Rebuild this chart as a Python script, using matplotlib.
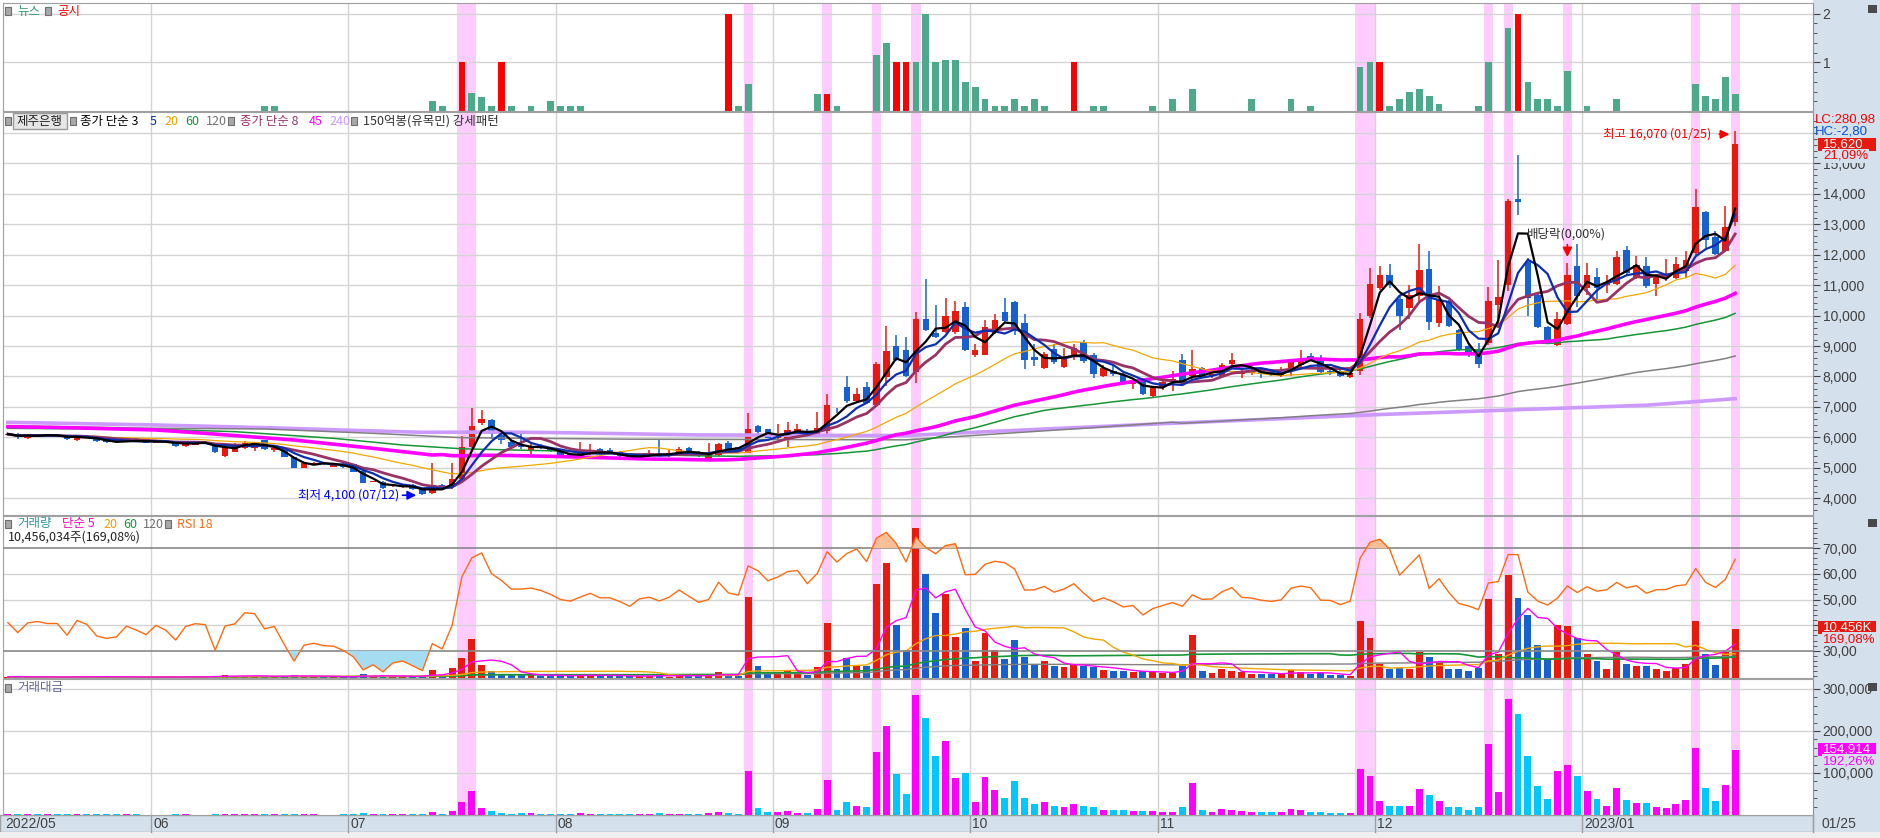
import matplotlib
matplotlib.use('Agg')
import matplotlib.pyplot as plt
from matplotlib.patches import Rectangle
from matplotlib import font_manager
import numpy as np
import pandas as pd

# ---------------- data ----------------
month_starts = [0, 15, 35, 56, 78, 98, 117, 139, 160]
month_labels = ['2022/05', '06', '07', '08', '09', '10', '11', '12', '2023/01']
last_date_label = '01/25'

ohlc = [
    (6080, 6130, 6050, 6110), (6120, 6160, 5960, 6000), (5980, 6120, 5960, 6070), (6100, 6110, 6060, 6080),
    (6030, 6100, 6020, 6060), (6080, 6110, 6040, 6060), (6020, 6040, 5920, 5940), (5900, 6050, 5890, 6040),
    (6010, 6050, 5980, 6000), (6020, 6040, 5860, 5870), (5930, 5950, 5820, 5840), (5930, 5940, 5830, 5850),
    (5890, 5940, 5870, 5920), (5970, 5990, 5860, 5880), (5920, 5930, 5820, 5830), (5830, 5900, 5820, 5890),
    (5910, 5920, 5830, 5840), (5860, 5870, 5700, 5730), (5730, 5840, 5680, 5820), (5750, 5860, 5740, 5840),
    (5780, 5850, 5770, 5830), (5800, 5820, 5490, 5510), (5400, 5720, 5350, 5700), (5530, 5800, 5520, 5720),
    (5640, 5880, 5620, 5820), (5640, 5830, 5550, 5810), (5910, 5930, 5600, 5620), (5580, 5680, 5520, 5640),
    (5620, 5640, 5340, 5360), (5350, 5360, 4980, 4990), (4990, 5160, 4980, 5150), (5140, 5200, 5130, 5170),
    (5130, 5160, 5090, 5120), (5040, 5130, 5030, 5110), (5140, 5160, 5010, 5020), (5110, 5130, 4860, 4880),
    (4900, 4910, 4500, 4510), (4540, 4580, 4520, 4560), (4550, 4560, 4310, 4330), (4400, 4440, 4380, 4420),
    (4370, 4460, 4350, 4440), (4440, 4460, 4280, 4300), (4330, 4350, 4100, 4140), (4160, 5150, 4150, 4440),
    (4440, 4460, 4280, 4300), (4380, 5170, 4300, 4620), (4650, 6050, 4600, 5680), (5690, 6960, 5650, 6370),
    (6480, 6890, 6400, 6590), (6560, 6600, 5950, 6100), (6090, 6210, 5780, 5920), (5840, 5900, 5650, 5680),
    (5740, 6100, 5620, 5680), (5590, 5830, 5450, 5710), (5700, 5780, 5620, 5650), (5660, 5700, 5530, 5550),
    (5590, 5620, 5380, 5420), (5450, 5480, 5340, 5380), (5330, 5860, 5300, 5480), (5450, 5780, 5420, 5570),
    (5610, 5640, 5450, 5470), (5590, 5640, 5450, 5470), (5520, 5560, 5370, 5390), (5420, 5440, 5260, 5290),
    (5320, 5460, 5300, 5440), (5400, 5600, 5350, 5470), (5450, 5960, 5380, 5400), (5400, 5600, 5370, 5470),
    (5420, 5700, 5400, 5610), (5660, 5700, 5480, 5500), (5520, 5560, 5350, 5390), (5300, 5830, 5280, 5440),
    (5420, 5800, 5400, 5780), (5810, 5870, 5570, 5590), (5680, 5700, 5530, 5550), (5500, 6790, 5480, 6270),
    (6370, 6400, 6100, 6180), (6260, 6280, 5970, 5990), (5990, 6430, 5960, 6090), (5940, 6510, 5670, 6240),
    (6140, 6430, 6100, 6270), (6180, 6290, 6000, 6030), (6090, 6820, 6060, 6300), (6210, 7420, 6100, 7060),
    (6870, 6980, 6800, 6850), (7670, 8020, 7140, 7200), (7200, 7610, 7140, 7410), (7670, 7810, 7100, 7140),
    (7070, 8490, 7000, 8400), (7970, 9660, 7690, 8830), (9000, 9350, 8500, 8550), (8870, 9290, 7980, 8020),
    (8140, 10110, 7790, 9900), (9900, 11210, 9490, 9520), (9430, 10360, 9250, 9290), (9450, 10580, 9430, 9990),
    (9470, 10470, 9400, 10160), (10290, 10450, 8850, 8860), (8720, 9050, 8640, 8880), (8720, 9840, 8700, 9630),
    (9430, 10060, 9400, 9870), (10110, 10580, 9780, 9810), (10460, 10490, 9370, 9540), (9760, 10060, 8230, 8530),
    (8630, 9050, 8330, 8550), (8270, 8790, 8250, 8750), (8910, 9050, 8420, 8470), (8300, 8940, 8280, 8640),
    (8700, 9070, 8550, 8940), (9130, 9210, 8450, 8500), (8720, 8770, 7950, 8090), (8010, 8360, 7980, 8270),
    (8190, 8390, 8030, 8080), (8060, 8120, 7790, 7820), (7760, 7950, 7590, 7880), (7900, 7950, 7390, 7410),
    (7350, 7700, 7330, 7680), (7660, 7870, 7550, 7810), (7820, 8190, 7510, 7930), (8550, 8740, 7730, 7770),
    (8030, 8880, 7810, 8250), (8280, 8300, 8030, 8060), (8010, 8170, 7950, 8080), (8030, 8440, 8000, 8370),
    (8420, 8770, 8390, 8550), (8080, 8280, 7950, 8190), (8110, 8280, 8040, 8160), (8230, 8280, 7950, 8080),
    (8150, 8230, 8000, 8040), (8030, 8310, 7990, 8090), (8170, 8530, 8030, 8500), (8390, 8880, 8310, 8580),
    (8680, 8770, 8500, 8530), (8550, 8720, 8120, 8150), (8160, 8280, 8060, 8140), (8190, 8220, 7990, 8010),
    (7990, 8140, 7950, 8110), (8190, 10080, 8050, 9900), (9970, 11560, 9920, 11050), (10900, 11640, 10850, 11320),
    (11320, 11700, 10900, 10990), (10550, 10630, 9510, 10000), (10250, 11010, 9900, 10690), (10650, 12360, 10470, 11510),
    (11540, 12110, 9510, 9790), (9750, 10960, 9640, 10550), (10490, 10520, 9630, 9670), (9530, 9560, 8850, 8880),
    (8990, 9030, 8640, 8690), (8900, 9100, 8270, 8420), (9100, 10930, 9040, 10490), (10360, 11810, 9700, 10600),
    (11010, 13810, 10790, 13750), (13840, 15270, 13290, 13740), (11750, 11890, 9970, 10580), (10690, 10720, 9580, 9610),
    (9610, 9650, 9090, 9150), (9040, 10100, 9000, 9900), (9730, 11730, 9700, 11340), (11620, 12350, 10270, 10650),
    (10900, 11730, 10690, 11340), (11260, 11560, 10520, 10900), (10990, 11340, 10740, 11060), (11040, 12110, 11000, 11910),
    (12140, 12270, 11340, 11400), (11230, 11950, 11200, 11650), (11620, 11910, 10900, 10960), (11040, 11340, 10630, 11320),
    (11230, 11840, 11120, 11340), (11230, 11920, 11200, 11700), (11470, 12110, 11230, 11810), (12060, 14140, 12000, 13560),
    (13390, 13430, 12200, 12470), (12570, 12770, 12000, 12020), (12110, 13610, 12080, 12900), (13080, 16070, 12930, 15620),
]
opens = [r[0] for r in ohlc]
highs = [r[1] for r in ohlc]
lows = [r[2] for r in ohlc]
closes = [r[3] for r in ohlc]

# volume in million shares
volume_m = [
    0.25, 0.3, 0.2, 0.2, 0.2, 0.2, 0.3, 0.3, 0.2, 0.3, 0.3, 0.2, 0.2, 0.2, 0.2, 0.2, 0.2, 0.3, 0.3, 0.2, 0.2,
    0.5, 0.6, 0.4, 0.4, 0.4, 0.4, 0.3, 0.4, 0.7, 0.4, 0.3, 0.2, 0.2, 0.3, 0.4, 0.8, 0.3, 0.5, 0.3, 0.3, 0.3, 0.5, 1.6, 0.6, 2.2,
    4.2, 8.3, 2.8, 1.5, 0.9, 0.6, 0.8, 0.7, 0.4, 0.4, 0.5, 0.4, 0.9, 0.6, 0.4, 0.4, 0.4, 0.4, 0.4, 0.4, 0.8, 0.3, 0.6, 0.4,
    0.4, 0.7, 1.2, 0.8, 0.5, 17.2, 2.5, 1.3, 1.1, 1.6, 0.9, 0.6, 2.4, 11.7, 1.8, 4.2, 2.8, 2.6, 19.8, 24.3, 11.2, 6.0,
    31.8, 22.0, 13.8, 17.7, 8.6, 10.5, 3.5, 9.5, 6.0, 4.0, 8.0, 4.5, 3.0, 3.5, 2.5, 2.3, 2.8, 2.6, 2.4, 1.6, 1.4, 1.5,
    1.2, 1.4, 1.3, 1.0, 1.0, 2.5, 9.2, 1.5, 1.0, 1.8, 1.5, 1.2, 0.9, 0.8, 0.8, 0.9, 1.6, 1.3, 0.8, 1.0, 0.6, 0.6, 0.5,
    12.0, 8.5, 3.0, 2.0, 2.2, 2.0, 5.5, 4.5, 3.3, 2.0, 2.0, 1.5, 2.2, 16.7, 5.0, 21.8, 17.0, 13.3, 7.0, 4.0, 11.3, 11.0,
    8.5, 5.0, 3.5, 2.0, 5.5, 3.0, 2.5, 2.5, 1.8, 1.5, 2.2, 3.0, 12.0, 5.0, 2.8, 5.6, 10.456,
]

# trading value in million KRW
value_m = [
    1500, 1800, 1200, 1200, 1200, 1200, 1800, 1800, 1200, 1800, 1750, 1200, 1200, 1200, 1150, 1150, 1150, 1700, 1700, 1150, 1150,
    2800, 3400, 2300, 2300, 2300, 2300, 1700, 2200, 3500, 2000, 1500, 1000, 1000, 1500, 2000, 3700, 1400, 2200, 1300, 1300, 1300,
    2100, 7500, 2600, 10500,
    30000, 58000, 16000, 9000, 5000, 3500, 4500, 4000, 2300, 2200, 2700, 2200, 5000, 3300, 2200, 2200, 2200, 2100, 2200, 2200,
    4400, 1600, 3400, 2200, 2200, 3800, 7000, 4500, 2800,
    105000, 15500, 7800, 6700, 10000, 5600, 3700, 15000, 83000, 12500, 30000, 20500, 18500, 151000, 211000, 97000, 50000,
    286000, 231000, 140000, 175000, 88000, 100000, 31000, 90000, 59000, 40000, 80000, 40000, 26000, 30000, 21500, 20000,
    25000, 22500, 20000, 13000, 11500, 11800, 9400, 10500, 10000, 7800, 8000, 20000, 76000, 12200, 8100, 15000, 12800,
    9800, 7300, 6500, 6500, 7300, 13500, 11200, 6900, 8300, 4900, 4800, 4000,
    110000, 93000, 34000, 22000, 22000, 21000, 63000, 48000, 34000, 20000, 18000, 13000, 19000, 170000, 55000, 275000,
    240000, 140000, 69000, 37000, 105000, 120000, 93000, 56000, 39000, 22000, 64000, 35000, 29000, 28000, 20000, 17000,
    26000, 35000, 160000, 64000, 34000, 71000, 154914,
]

news_counts = {26: 0.1, 27: 0.1, 43: 0.2, 44: 0.1, 47: 0.37, 48: 0.28, 49: 0.1, 51: 0.1, 53: 0.1, 55: 0.2, 56: 0.1,
               57: 0.1, 58: 0.1, 74: 0.1, 75: 0.55, 82: 0.35, 84: 0.1, 88: 1.15, 89: 1.4, 92: 1.0, 93: 2.0,
               94: 1.0, 95: 1.05, 96: 1.05, 97: 0.6, 98: 0.5, 99: 0.25, 100: 0.1, 101: 0.1, 102: 0.25, 103: 0.1,
               104: 0.25, 105: 0.1, 110: 0.1, 111: 0.1, 116: 0.1, 118: 0.25, 120: 0.45, 126: 0.25,
               130: 0.25, 132: 0.1, 137: 0.9, 138: 1.0, 140: 0.1, 141: 0.25, 142: 0.4, 143: 0.45, 144: 0.3,
               145: 0.15, 149: 0.1, 150: 1.0, 152: 1.7, 154: 0.6, 155: 0.25, 156: 0.25, 157: 0.1, 158: 0.83,
               160: 0.1, 163: 0.25, 171: 0.55, 172: 0.3, 173: 0.25, 174: 0.7, 175: 0.35}
disclosure_counts = {46: 1, 50: 1, 73: 2, 83: 0.35, 90: 1.0, 91: 1.0, 108: 1.0, 139: 1.0, 153: 2.0}

highlight_bars = [46, 47, 75, 83, 88, 92, 137, 138, 150, 152, 158, 171, 175]

ma45_early = {0: 6352, 6: 6319, 15: 6243, 20: 6133, 29: 5914, 37: 5641, 43: 5422}
ma60_early = {0: 6297, 15: 6265, 23: 6188, 33: 5969, 40: 5750, 46: 5625, 52: 5580, 58: 5540}
ma120_early = {0: 6380, 15: 6300, 26: 6276, 37: 6133, 46: 5990, 63: 5941, 91: 5919, 100: 6110, 110: 6320, 118: 6500}
ma240_read = {0: 6494, 6: 6460, 15: 6407, 26: 6320, 34: 6240, 42: 6166, 50: 6175, 57: 6150, 70: 6080, 91: 6060,
              100: 6200, 117: 6450, 139: 6750, 166: 7056, 175: 7270}
rsi_start = 41

# ---------------- helpers ----------------
W, H = 1881, 838
fig = plt.figure(figsize=(W / 100, H / 100), dpi=100)
fig.patch.set_facecolor('white')

names = {f.name for f in font_manager.fontManager.ttflist}
NUMF = 'Liberation Sans Narrow' if 'Liberation Sans Narrow' in names else 'Liberation Sans'
KR = ['Noto Sans CJK KR', 'DejaVu Sans']
plt.rcParams['font.family'] = KR

N = len(closes)
idx = np.arange(N)
PX0, PXS = 7.9, 9.87
XMIN, XMAX = (3 - PX0) / PXS, (1813 - PX0) / PXS

RED, BLUE = '#e8190e', '#1660d0'
GRID = '#d4d4d4'
TXT = '#404040'
STRIP = '#d5e0ed'
PINK = '#ffccff'
TICKSIZE = 10


def add_ax(y0, y1):
    ax = fig.add_axes([3 / W, 1 - y1 / H, (1813 - 3) / W, (y1 - y0) / H])
    ax.set_xlim(XMIN, XMAX)
    ax.set_facecolor('white')
    for s in ['top', 'left', 'bottom']:
        ax.spines[s].set_color('#a0a0a0')
    ax.spines['right'].set_color('#909090')
    ax.tick_params(axis='x', which='both', bottom=False, labelbottom=False)
    ax.yaxis.tick_right()
    ax.tick_params(axis='y', which='major', direction='out', length=5, color=TXT, labelcolor=TXT,
                   labelsize=TICKSIZE, pad=2)
    ax.tick_params(axis='y', which='minor', direction='out', length=3, color=TXT)
    for m in month_starts[1:]:
        ax.axvline(m - 0.5, color=GRID, lw=1, zorder=0.5)
    for b in highlight_bars:
        ax.axvspan(b - 0.47, b + 0.47, color=PINK, lw=0, zorder=0.3)
    return ax


def prect(x0, y0, w, h, **kw):
    fig.add_artist(Rectangle((x0 / W, 1 - (y0 + h) / H), w / W, h / H, transform=fig.transFigure, **kw))


def ftext(x, y, s, color, size=9, family=None, zorder=6, **kw):
    fig.text(x / W, 1 - y / H, s, color=color, fontsize=size, va='center', ha='left',
             family=family if family else KR, zorder=zorder, **kw)


def square(x, y):
    prect(x - 3, y - 4, 6, 8, facecolor='#a8a8a8', edgecolor='#6e6e6e', lw=0.8, zorder=5)


# background strips
prect(1813, 0, W - 1813, 832, facecolor=STRIP, edgecolor='none', zorder=0)
prect(0, 815, 1813, 17, facecolor=STRIP, edgecolor='#a0a0a0', lw=1, zorder=0)
prect(0, 832, W, 6, facecolor='#efefef', edgecolor='none', zorder=0)

# ---------------- news panel ----------------
axn = add_ax(3, 111)
axn.set_ylim(0, 2.22)
axn.set_yticks([1, 2])
axn.set_yticklabels(['1', '2'], family=NUMF)
axn.set_yticks(np.arange(0.2, 2.2, 0.2), minor=True)
for v in [1, 2]:
    axn.axhline(v, color=GRID, lw=1, zorder=0.5)
nx = list(news_counts.keys())
axn.bar(nx, [news_counts[k] for k in nx], width=0.68, color='#4caa8a', zorder=2)
dx = list(disclosure_counts.keys())
axn.bar(dx, [disclosure_counts[k] for k in dx], width=0.68, color='#ff0000', zorder=2)

# ---------------- price panel ----------------
axp = add_ax(112, 515)
axp.set_ylim(3452, 16682)
axp.set_yticks(range(4000, 16000, 1000))
axp.set_yticklabels([f'{v:,}' for v in range(4000, 16000, 1000)], family=NUMF)
axp.set_yticks(range(3600, 16600, 200), minor=True)
for v in range(4000, 17000, 1000):
    axp.axhline(v, color=GRID, lw=1, zorder=0.5)

o = np.array(opens, float)
c = np.array(closes, float)
hi = np.array(highs, float)
lo = np.array(lows, float)
up = c >= o
cols = np.where(up, RED, BLUE)
axp.vlines(idx, lo, hi, colors=cols, lw=1.1, zorder=2)
body_b = np.minimum(o, c)
body_h = np.maximum(np.abs(c - o), 30)
axp.bar(idx, body_h, bottom=body_b, width=0.66, color=cols, zorder=2.1)

cs = pd.Series(c)


def ma_full(n):
    return cs.rolling(n, min_periods=1).mean().values


def ma_joined(n, early):
    comp = cs.rolling(n).mean()
    xs = list(early.keys()) + list(range(n - 1, N))
    ys = list(early.values()) + list(comp.values[n - 1:])
    return xs, ys


x45, y45 = ma_joined(45, ma45_early)
x60, y60 = ma_joined(60, ma60_early)
x120, y120 = ma_joined(120, ma120_early)
axp.plot(list(ma240_read.keys()), list(ma240_read.values()), color='#cc99ff', lw=2.6, zorder=3)
axp.plot(x120, y120, color='#808080', lw=1.1, zorder=3.1)
axp.plot(x60, y60, color='#169636', lw=1.1, zorder=3.2)
axp.plot(x45, y45, color='#ff00ff', lw=2.6, zorder=3.3)
axp.plot(idx, ma_full(20), color='#f0a800', lw=0.9, zorder=3.4)
axp.plot(idx, ma_full(8), color='#993366', lw=2.0, zorder=3.5)
axp.plot(idx, ma_full(5), color='#0b2fb0', lw=1.6, zorder=3.6)
axp.plot(idx, ma_full(3), color='#000000', lw=1.6, zorder=3.7)

lo_i = int(np.argmin(lo))
hi_i = int(np.argmax(hi))
axp.text(29.4, lo[lo_i], f'최저 {int(lo[lo_i]):,} (07/12)', color='#0000ff', fontsize=9, va='center', ha='left', zorder=6)
axp.annotate('', xy=(lo_i - 0.35, lo[lo_i]), xytext=(lo_i - 2.3, lo[lo_i]),
             arrowprops=dict(arrowstyle='-|>', color='#0000ff', lw=1.2, mutation_scale=13), zorder=6)
axp.text(161.6, 15950, f'최고 {int(hi[hi_i]):,} (01/25)', color='#ff0000', fontsize=9, va='center', ha='left', zorder=6)
axp.annotate('', xy=(hi_i - 0.3, 15950), xytext=(hi_i - 1.9, 15950),
             arrowprops=dict(arrowstyle='-|>', color='#ff0000', lw=1.2, mutation_scale=13), zorder=6)
axp.text(153.9, 12680, '배당락(0,00%)', color='#303030', fontsize=9, va='center', ha='left', zorder=6)
axp.annotate('', xy=(158, 11830), xytext=(158, 12420),
             arrowprops=dict(arrowstyle='-|>', color='#ff0000', lw=1.2, mutation_scale=14), zorder=6)

# ---------------- volume / RSI panel ----------------
axv = add_ax(516, 678)
axv.set_ylim(0, 34.3)
axv.set_yticks([])
vol = np.array(volume_m)
axv.bar(idx, vol, width=0.7, color=cols, zorder=2)
vs = pd.Series(vol)
axv.plot(idx, vs.rolling(120, min_periods=1).mean(), color='#808080', lw=1.0, zorder=3)
axv.plot(idx, vs.rolling(60, min_periods=1).mean(), color='#169636', lw=1.2, zorder=3)
axv.plot(idx, vs.rolling(20, min_periods=1).mean(), color='#f0a800', lw=1.0, zorder=3)
axv.plot(idx, vs.rolling(5, min_periods=1).mean(), color='#ff00ff', lw=1.0, zorder=3)

axr = fig.add_axes(axv.get_position(), sharex=axv)
axr.set_facecolor('none')
axr.set_xlim(XMIN, XMAX)
for s in axr.spines.values():
    s.set_visible(False)
axr.tick_params(axis='x', which='both', bottom=False, labelbottom=False)
axr.yaxis.tick_right()
axr.tick_params(axis='y', which='major', direction='out', length=5, color=TXT, labelcolor=TXT,
                labelsize=TICKSIZE, pad=2)
axr.tick_params(axis='y', which='minor', direction='out', length=3, color=TXT)
RSI_LO, RSI_HI = 19.41, 82.55
axr.set_ylim(RSI_LO, RSI_HI)
axr.set_yticks([30, 40, 50, 60, 70])
axr.set_yticklabels([f'{v},00' for v in [30, 40, 50, 60, 70]], family=NUMF)
axr.set_yticks(np.arange(20, 82, 2), minor=True)
for v in [40, 50, 60]:
    axv.axhline((v - RSI_LO) / (RSI_HI - RSI_LO) * 34.3, color=GRID, lw=1, zorder=0.5)
axr.axhline(70, color='#888888', lw=1.2, zorder=1)
axr.axhline(30, color='#888888', lw=1.2, zorder=1)

# RSI (Wilder, 18)
d = np.diff(c)
avg_abs = np.mean(np.abs(d[:18]))
ag = avg_abs * rsi_start / 100
al = avg_abs * (1 - rsi_start / 100)
rsi = [rsi_start]
for x in d:
    ag = (ag * 17 + max(x, 0)) / 18
    al = (al * 17 + max(-x, 0)) / 18
    rsi.append(100 * ag / (ag + al))
rsi = np.array(rsi)
axr.fill_between(idx, rsi, 70, where=rsi > 70, interpolate=True, color='#f6bf98', lw=0, zorder=1.5)
axr.fill_between(idx, rsi, 30, where=rsi < 30, interpolate=True, color='#a6dcf2', lw=0, zorder=1.5)
axr.plot(idx, rsi, color='#ff6a10', lw=1.0, zorder=2)

# ---------------- trading value panel ----------------
axa = add_ax(679, 815)
axa.set_ylim(0, 323800)
axa.set_yticks([100000, 200000, 300000])
axa.set_yticklabels(['100,000', '200,000', '300,000'], family=NUMF)
axa.set_yticks(np.arange(20000, 320000, 20000), minor=True)
for v in [100000, 200000, 300000]:
    axa.axhline(v, color=GRID, lw=1, zorder=0.5)
vcols = np.where(up, '#ff00ff', '#00c8ff')
axa.bar(idx, value_m, width=0.7, color=vcols, zorder=2)

# ---------------- date strip ----------------
for k, lab in zip(month_starts, month_labels):
    xp = PX0 + PXS * (k - 0.5)
    if k > 0:
        fig.add_artist(plt.Line2D([xp / W, xp / W], [1 - 815 / H, 1 - 832 / H], transform=fig.transFigure,
                                  color='#a0a0a0', lw=1))
    ftext(max(xp, 3) + 2, 824, lab, TXT, size=TICKSIZE, family=NUMF)
ftext(1822, 824, last_date_label, TXT, size=TICKSIZE, family=NUMF)
fig.add_artist(plt.Line2D([1813 / W, 1813 / W], [1 - 815 / H, 1 - 832 / H], transform=fig.transFigure,
                          color='#a0a0a0', lw=1))

# ---------------- legends ----------------
square(8, 11)
ftext(17, 11, '뉴스', '#3a9a7a')
square(48, 11)
ftext(57, 11, '공시', '#ff0000')

square(8, 121)
prect(13, 113, 54, 16, facecolor='#e6e6e6', edgecolor='#9a9a9a', lw=1, zorder=4)
ftext(16, 121, '제주은행', '#202020', zorder=7)
square(73, 121)
ftext(80, 121, '종가 단순 3', '#000000')
ftext(150, 121, '5', '#0b2fb0')
ftext(164, 121, '20', '#f0a000')
ftext(185, 121, '60', '#169636')
ftext(206, 121, '120', '#707070')
square(231, 121)
ftext(240, 121, '종가 단순 8', '#993366')
ftext(309, 121, '45', '#ff00ff')
ftext(329, 121, '240', '#cc99ff')
square(354, 121)
ftext(363, 121, '150억봉(유목민) 강세패턴', '#303030')

square(8, 524)
ftext(17, 524, '거래량', '#339999')
ftext(62, 524, '단순 5', '#ff00cc')
ftext(103, 524, '20', '#f0a000')
ftext(123, 524, '60', '#169636')
ftext(143, 524, '120', '#707070')
square(168, 524)
ftext(177, 524, 'RSI 18', '#ff6a10')
ftext(8, 537, '10,456,034주(169,08%)', '#202020')

square(8, 688)
ftext(17, 688, '거래대금', '#666699')

# ---------------- right side value labels ----------------
RS = 9.5
ftext(1815, 120, 'LC:280,98', '#ff0000', size=RS, family=NUMF)
ftext(1815, 132, 'HC:-2,80', '#0050e0', size=RS, family=NUMF)
prect(1818, 138, 58, 13, facecolor=RED, edgecolor='none', zorder=5)
ftext(1823, 144.5, f'{int(closes[-1]):,}', 'white', size=RS, family=NUMF)
fig.text(1823 / W, 1 - 156 / H, '21,09%', color='#ff0000', fontsize=RS, va='center', ha='left', family=NUMF,
         zorder=6, bbox=dict(facecolor=STRIP, edgecolor='none', pad=0.5))

prect(1818, 621, 58, 13, facecolor=RED, edgecolor='none', zorder=5)
ftext(1823, 627.5, '10,456K', 'white', size=RS, family=NUMF)
fig.text(1823 / W, 1 - 639 / H, '169,08%', color='#ff0000', fontsize=RS, va='center', ha='left', family=NUMF,
         zorder=6, bbox=dict(facecolor=STRIP, edgecolor='none', pad=0.5))

prect(1818, 743, 58, 13, facecolor='#ff00ff', edgecolor='none', zorder=5)
ftext(1823, 749.5, f'{value_m[-1]:,}', 'white', size=RS, family=NUMF)
fig.text(1823 / W, 1 - 761 / H, '192,26%', color='#ff00ff', fontsize=RS, va='center', ha='left', family=NUMF,
         zorder=6, bbox=dict(facecolor=STRIP, edgecolor='none', pad=0.5))

for yy in [5, 519, 683]:
    prect(1868, yy, 9, 8, facecolor='#4a4a4a', edgecolor='none', zorder=5)

fig.savefig('out.png', dpi=100, facecolor='white')
